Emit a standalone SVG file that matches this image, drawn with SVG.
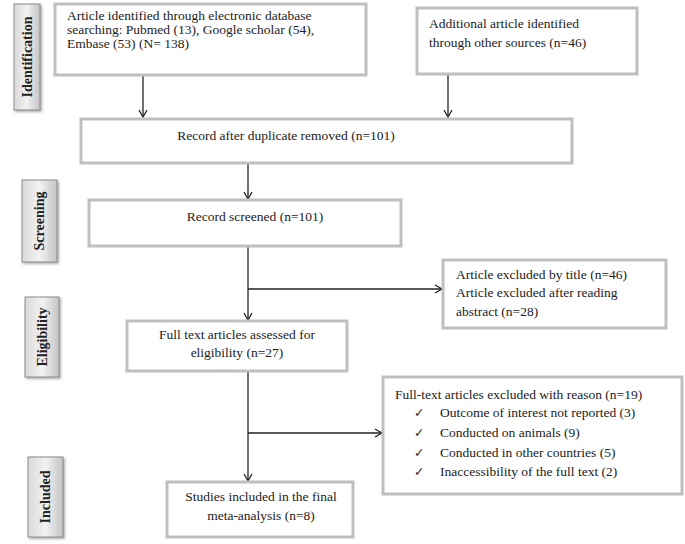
<svg xmlns="http://www.w3.org/2000/svg" width="685" height="544" viewBox="0 0 685 544">
<style>
.box{fill:#fff;stroke:#bfbfbf;stroke-width:3}
.t{font-family:"Liberation Serif",serif;font-size:13.5px;fill:#222}
.ck{font-family:"DejaVu Sans",sans-serif;font-size:12.5px;fill:#222}
.lab{fill:url(#g);stroke:#8c8c8c;stroke-width:1}
.lt{font-family:"Liberation Serif",serif;font-size:14px;font-weight:bold;fill:#222}
.c{fill:none;stroke:#222;stroke-width:1.3}
</style>
<defs>
<linearGradient id="g" x1="0" y1="0" x2="1" y2="0">
<stop offset="0" stop-color="#d9d9d9"/>
<stop offset="0.5" stop-color="#f2f2f2"/>
<stop offset="1" stop-color="#c4c4c4"/>
</linearGradient>
<filter id="sh" x="-20%" y="-20%" width="150%" height="150%"><feDropShadow dx="1.5" dy="1.5" stdDeviation="1" flood-color="#777" flood-opacity="0.6"/></filter>
<marker id="a" markerWidth="10" markerHeight="10" refX="8" refY="5" orient="auto" markerUnits="userSpaceOnUse"><path d="M1,1 L8,5 L1,9" fill="none" stroke="#222" stroke-width="1.3"/></marker>
</defs>
<g id="lab-identification"><rect class="lab" filter="url(#sh)" x="14" y="4" width="26" height="106"/><text class="lt" transform="translate(32,57) rotate(-90)" text-anchor="middle">Identification</text></g>
<g id="lab-screening"><rect class="lab" filter="url(#sh)" x="22" y="180" width="35" height="82"/><text class="lt" transform="translate(44,221) rotate(-90)" text-anchor="middle">Screening</text></g>
<g id="lab-eligibility"><rect class="lab" filter="url(#sh)" x="25" y="297" width="34" height="80"/><text class="lt" transform="translate(47,337) rotate(-90)" text-anchor="middle">Eligibility</text></g>
<g id="lab-included"><rect class="lab" filter="url(#sh)" x="28" y="457" width="35" height="80"/><text class="lt" transform="translate(50,497) rotate(-90)" text-anchor="middle">Included</text></g>
<g id="connectors">
<path class="c" d="M143,75 V117" marker-end="url(#a)"/>
<path class="c" d="M448,74 V117" marker-end="url(#a)"/>
<path class="c" d="M248,164 V199" marker-end="url(#a)"/>
<path class="c" d="M248,246 V320" marker-end="url(#a)"/>
<path class="c" d="M248,289 H442" marker-end="url(#a)"/>
<path class="c" d="M248,371 V481" marker-end="url(#a)"/>
<path class="c" d="M248,433 H382" marker-end="url(#a)"/>
</g>
<g id="n1"><rect class="box" x="55" y="4" width="311" height="71"/>
<text class="t" x="67" y="20">Article identified through electronic database</text>
<text class="t" x="67" y="34">searching: Pubmed (13), Google scholar (54),</text>
<text class="t" x="67" y="48">Embase (53) (N= 138)</text></g>
<g id="n2"><rect class="box" x="417" y="8" width="220" height="66"/>
<text class="t" x="429" y="28">Additional article identified</text>
<text class="t" x="429" y="47">through other sources (n=46)</text></g>
<g id="n3"><rect class="box" x="81" y="119" width="491" height="44"/>
<text class="t" x="286" y="140" text-anchor="middle">Record after duplicate removed (n=101)</text></g>
<g id="n4"><rect class="box" x="89" y="200" width="312" height="46"/>
<text class="t" x="255" y="221" text-anchor="middle">Record screened (n=101)</text></g>
<g id="n5"><rect class="box" x="443" y="260" width="223" height="68"/>
<text class="t" x="456" y="279">Article excluded by title (n=46)</text>
<text class="t" x="456" y="297">Article excluded after reading</text>
<text class="t" x="456" y="316">abstract (n=28)</text></g>
<g id="n6"><rect class="box" x="127" y="321" width="220" height="50"/>
<text class="t" x="237" y="339" text-anchor="middle">Full text articles assessed for</text>
<text class="t" x="237" y="357" text-anchor="middle">eligibility (n=27)</text></g>
<g id="n7"><rect class="box" x="383" y="377" width="299" height="117"/>
<text class="t" x="395" y="399">Full-text articles excluded with reason (n=19)</text>
<text class="ck" x="414" y="417">✓</text><text class="t" x="440" y="417">Outcome of interest not reported (3)</text>
<text class="ck" x="414" y="437">✓</text><text class="t" x="440" y="437">Conducted on animals (9)</text>
<text class="ck" x="414" y="457">✓</text><text class="t" x="440" y="457">Conducted in other countries (5)</text>
<text class="ck" x="414" y="476">✓</text><text class="t" x="440" y="476">Inaccessibility of the full text (2)</text></g>
<g id="n8"><rect class="box" x="167" y="482" width="186" height="55"/>
<text class="t" x="261" y="501" text-anchor="middle">Studies included in the final</text>
<text class="t" x="261" y="520" text-anchor="middle">meta-analysis (n=8)</text></g>
</svg>
